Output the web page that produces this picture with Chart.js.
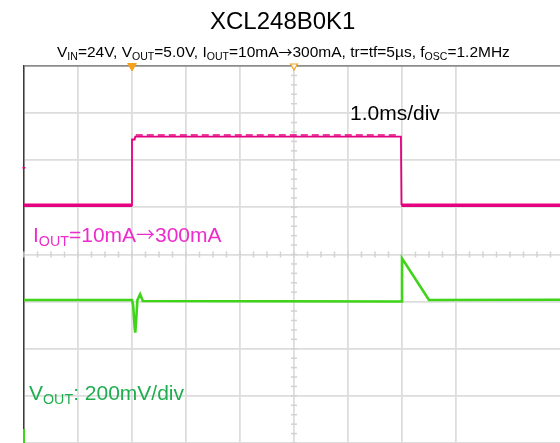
<!DOCTYPE html>
<html><head><meta charset="utf-8">
<script src="https://cdn.jsdelivr.net/npm/chart.js@4"></script>
<style>
html,body{margin:0;padding:0;background:#fff;overflow:hidden}
#wrap{position:relative;width:560px;height:443px;font-family:"Liberation Sans",Arial,sans-serif}
canvas{position:absolute;left:0;top:0}
.t{position:absolute;white-space:nowrap;line-height:1}
.t sub{font-size:0.68em;vertical-align:-0.3em;line-height:0}
.ar{font-family:"Noto Sans CJK JP",sans-serif;font-size:0.9em}
</style></head><body>
<div id="wrap">
<canvas id="c" width="560" height="443"></canvas>
<div class="t" style="left:210px;top:9px;font-size:24px;color:#000">XCL248B0K1</div>
<div class="t" id="sub" style="left:57px;top:44px;font-size:15.5px;color:#000">V<sub>IN</sub>=24V, V<sub>OUT</sub>=5.0V, I<sub>OUT</sub>=10mA<span class="ar">→</span>300mA, tr=tf=5µs, f<sub>OSC</sub>=1.2MHz</div>
<div class="t" style="left:350px;top:102px;font-size:21px;color:#000">1.0ms/div</div>
<div class="t" style="left:33px;top:224px;font-size:21px;color:#ec2ccb">I<sub>OUT</sub>=10mA<span class="ar">→</span>300mA</div>
<div class="t" style="left:29px;top:382px;font-size:21px;color:#1fae4f">V<sub>OUT</sub>: 200mV/div</div>
</div>
<script>
// time axis in divisions (1.0 ms/div), vertical axis in divisions (8 div screen)
const ioutTime   = [0,    2.0,  2.0,  2.05, 2.06, 6.98, 6.99, 7.01, 9.93];
const ioutLevel  = [5.044,5.044,6.44, 6.44, 6.50, 6.50, 5.06, 5.044,5.044];
const ioutLowA_T = [0, 2.0];
const ioutLowB_T = [6.99, 9.93];
const ioutLow    = 5.044;
const ioutRippleT = [2.07, 6.95];
const ioutRipple  = 6.536;

const voutTime  = [0,    2.0,  2.02, 2.05, 2.06, 2.08, 2.10, 2.15, 2.20, 6.98, 6.99, 7.00, 7.50, 9.93];
const voutLevel = [3.034,3.034,2.928,2.440,2.341,2.653,3.034,3.155,3.013,3.003,3.003,3.919,3.034,3.039];

const triggerT = [2.0];
const centerT  = [5.0];
const screenTop = 8;
const ch1MarkerLevel = [5.84];
const ch2MarkerLevel = [0.15];

const pts = (xs, ys) => xs.map((x, i) => ({x, y: Array.isArray(ys) ? ys[i] : ys}));

const graticule = {
  id: 'graticule',
  beforeDatasetsDraw(chart) {
    const {ctx, scales: {x, y}} = chart;
    ctx.save();
    ctx.strokeStyle = '#d2d2d2';
    ctx.lineWidth = 1.5;
    const yc = y.getPixelForValue(4), xc = x.getPixelForValue(5);
    for (let k = 0; k <= 40; k++) {
      const px = x.getPixelForValue(k / 4);
      if (px > chart.chartArea.right) break;
      ctx.beginPath(); ctx.moveTo(px, yc - 3); ctx.lineTo(px, yc + 3); ctx.stroke();
    }
    for (let k = 0; k <= 40; k++) {
      const py = y.getPixelForValue(k / 5);
      ctx.beginPath(); ctx.moveTo(xc - 3, py); ctx.lineTo(xc + 3, py); ctx.stroke();
    }
    ctx.restore();
  }
};

const line = (data, color, width, extra) => Object.assign({
  data, showLine: true, borderColor: color, backgroundColor: color,
  borderWidth: width, pointRadius: 0, tension: 0, fill: false
}, extra || {});

new Chart(document.getElementById('c'), {
  type: 'scatter',
  data: { datasets: [
    line(pts(voutTime, voutLevel), '#3fd418', 2.6, {order: 1}),
    line(pts(ioutTime, ioutLevel), '#e4007f', 1.8, {order: 2}),
    line(pts(ioutLowA_T, ioutLow), '#e4007f', 3.5, {order: 2}),
    line(pts(ioutLowB_T, ioutLow), '#e4007f', 3.5, {order: 2}),
    line(pts(ioutRippleT, ioutRipple), '#e4007f', 1.6, {order: 2, borderDash: [7, 4]}),
    {data: pts(triggerT, screenTop), pointStyle: 'triangle', rotation: 180, pointRadius: 5,
     backgroundColor: '#f5a01a', borderColor: '#f5a01a', borderWidth: 1, clip: false, order: 0},
    {data: pts(centerT, screenTop), pointStyle: 'triangle', rotation: 180, pointRadius: 4,
     backgroundColor: '#ffffff', borderColor: '#f5a01a', borderWidth: 1.2, clip: false, order: 0},
    {data: pts([0], ch1MarkerLevel), pointStyle: 'line', pointRadius: 1.5,
     borderColor: '#e4007f', borderWidth: 1.5, clip: false, order: 0},
    {data: pts([0], ch2MarkerLevel), pointStyle: 'line', rotation: 90, pointRadius: 7,
     borderColor: '#3fd418', borderWidth: 2, clip: false, order: 0}
  ]},
  options: {
    responsive: false, animation: false,
    layout: {autoPadding: false, padding: {left: 24, top: 66, right: 0, bottom: 0}},
    plugins: {legend: {display: false}, tooltip: {enabled: false}},
    scales: {
      x: {type: 'linear', min: 0, max: 9.926,
          afterFit: s => { s.height = 0; s.paddingLeft = 0; s.paddingRight = 0; },
          afterBuildTicks: s => { s.ticks = s.ticks.filter(t => Number.isInteger(t.value)); },
          ticks: {display: false, stepSize: 1},
          grid: {color: '#dddddd', lineWidth: 1.8, drawTicks: false},
          border: {display: false}},
      y: {min: 0, max: 8,
          afterFit: s => { s.width = 0; s.paddingTop = 0; s.paddingBottom = 0; },
          ticks: {display: false, stepSize: 1},
          grid: {color: c => c.tick && c.tick.value === 8 ? '#8c8c8c' : '#dddddd', lineWidth: 1.8, drawTicks: false},
          border: {display: true, color: '#3a3a3a', width: 1.5}}
    }
  },
  plugins: [graticule]
});
</script>
</body></html>
